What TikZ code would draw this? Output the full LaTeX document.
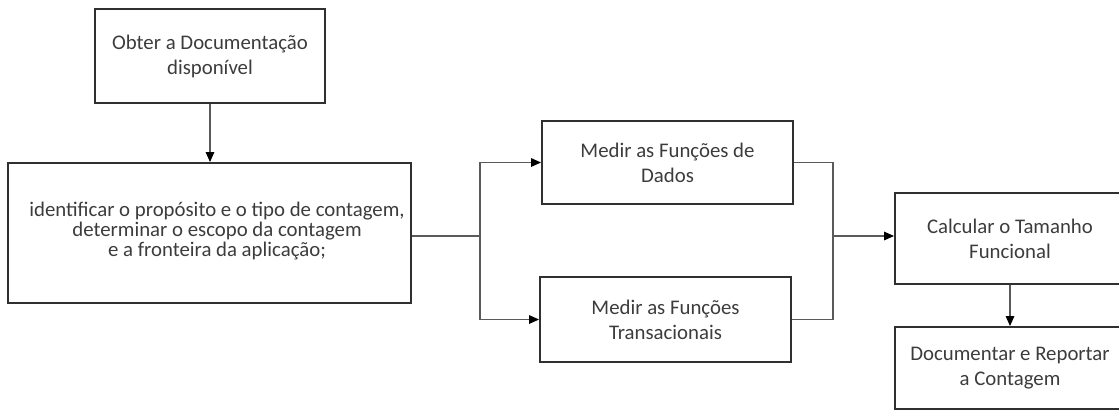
\documentclass[tikz,border=0pt]{standalone}
\usepackage{fontspec}
\setmainfont{Carlito}
\usetikzlibrary{arrows.meta}
\definecolor{ink}{HTML}{3C3C3C}
\definecolor{frame}{HTML}{303030}
\definecolor{wire}{HTML}{5A5A5A}
\begin{document}
\begin{tikzpicture}[x=0.75pt,y=-0.75pt,
  box/.style={draw=frame,line width=1.5pt,rectangle,inner sep=0pt,align=center,
    text=ink,font=\fontsize{15.6pt}{18.75pt}\selectfont},
  wirestyle/.style={draw=wire,line width=0.8pt},
  arr/.style={wirestyle,-{Triangle[length=7.5pt,width=6.5pt,color=black]}}]
\useasboundingbox (0,0) rectangle (1119,419);
\clip (0,0) rectangle (1119,419);
% process boxes
\node[box,minimum width=230*0.75pt,minimum height=94*0.75pt] (b1) at (210,56)
  {Obter a Documentação\\disponível};
\node[box,minimum width=403*0.75pt,minimum height=140*0.75pt] (b2) at (209.5,233) {};
\node[text=ink,align=center,font=\fontsize{15.6pt}{15pt}\selectfont] (b2text) at (217,231)
  {identificar o propósito e o tipo de contagem,\\determinar o escopo da contagem\\e a fronteira da aplicação;};
\node[box,minimum width=251*0.75pt,minimum height=83*0.75pt] (b3) at (667.5,162.5)
  {Medir as Funções de\\Dados};
\node[box,minimum width=251*0.75pt,minimum height=85*0.75pt] (b4) at (665.5,319.5)
  {Medir as Funções\\Transacionais};
\node[box,minimum width=230*0.75pt,minimum height=91*0.75pt] (b5) at (1010,238.5)
  {Calcular o Tamanho\\Funcional};
\node[box,minimum width=230*0.75pt,minimum height=82*0.75pt] (b6) at (1010,368)
  {Documentar e Reportar\\a Contagem};
% junction points
\coordinate (split) at (480,236);
\coordinate (merge) at (833,236);
% connectors
\draw[arr] (b1.south) -- (b1.south |- b2.north);
\draw[wirestyle] (b2.east |- split) -- (split);
\draw[arr] (split) |- (b3.west);
\draw[arr] (split) |- (b4.west);
\draw[wirestyle] (b3.east) -| (merge);
\draw[wirestyle] (b4.east) -| (merge);
\draw[arr] (merge) -- (merge -| b5.west);
\draw[arr] (b5.south) -- (b6.north);
\end{tikzpicture}
\end{document}
